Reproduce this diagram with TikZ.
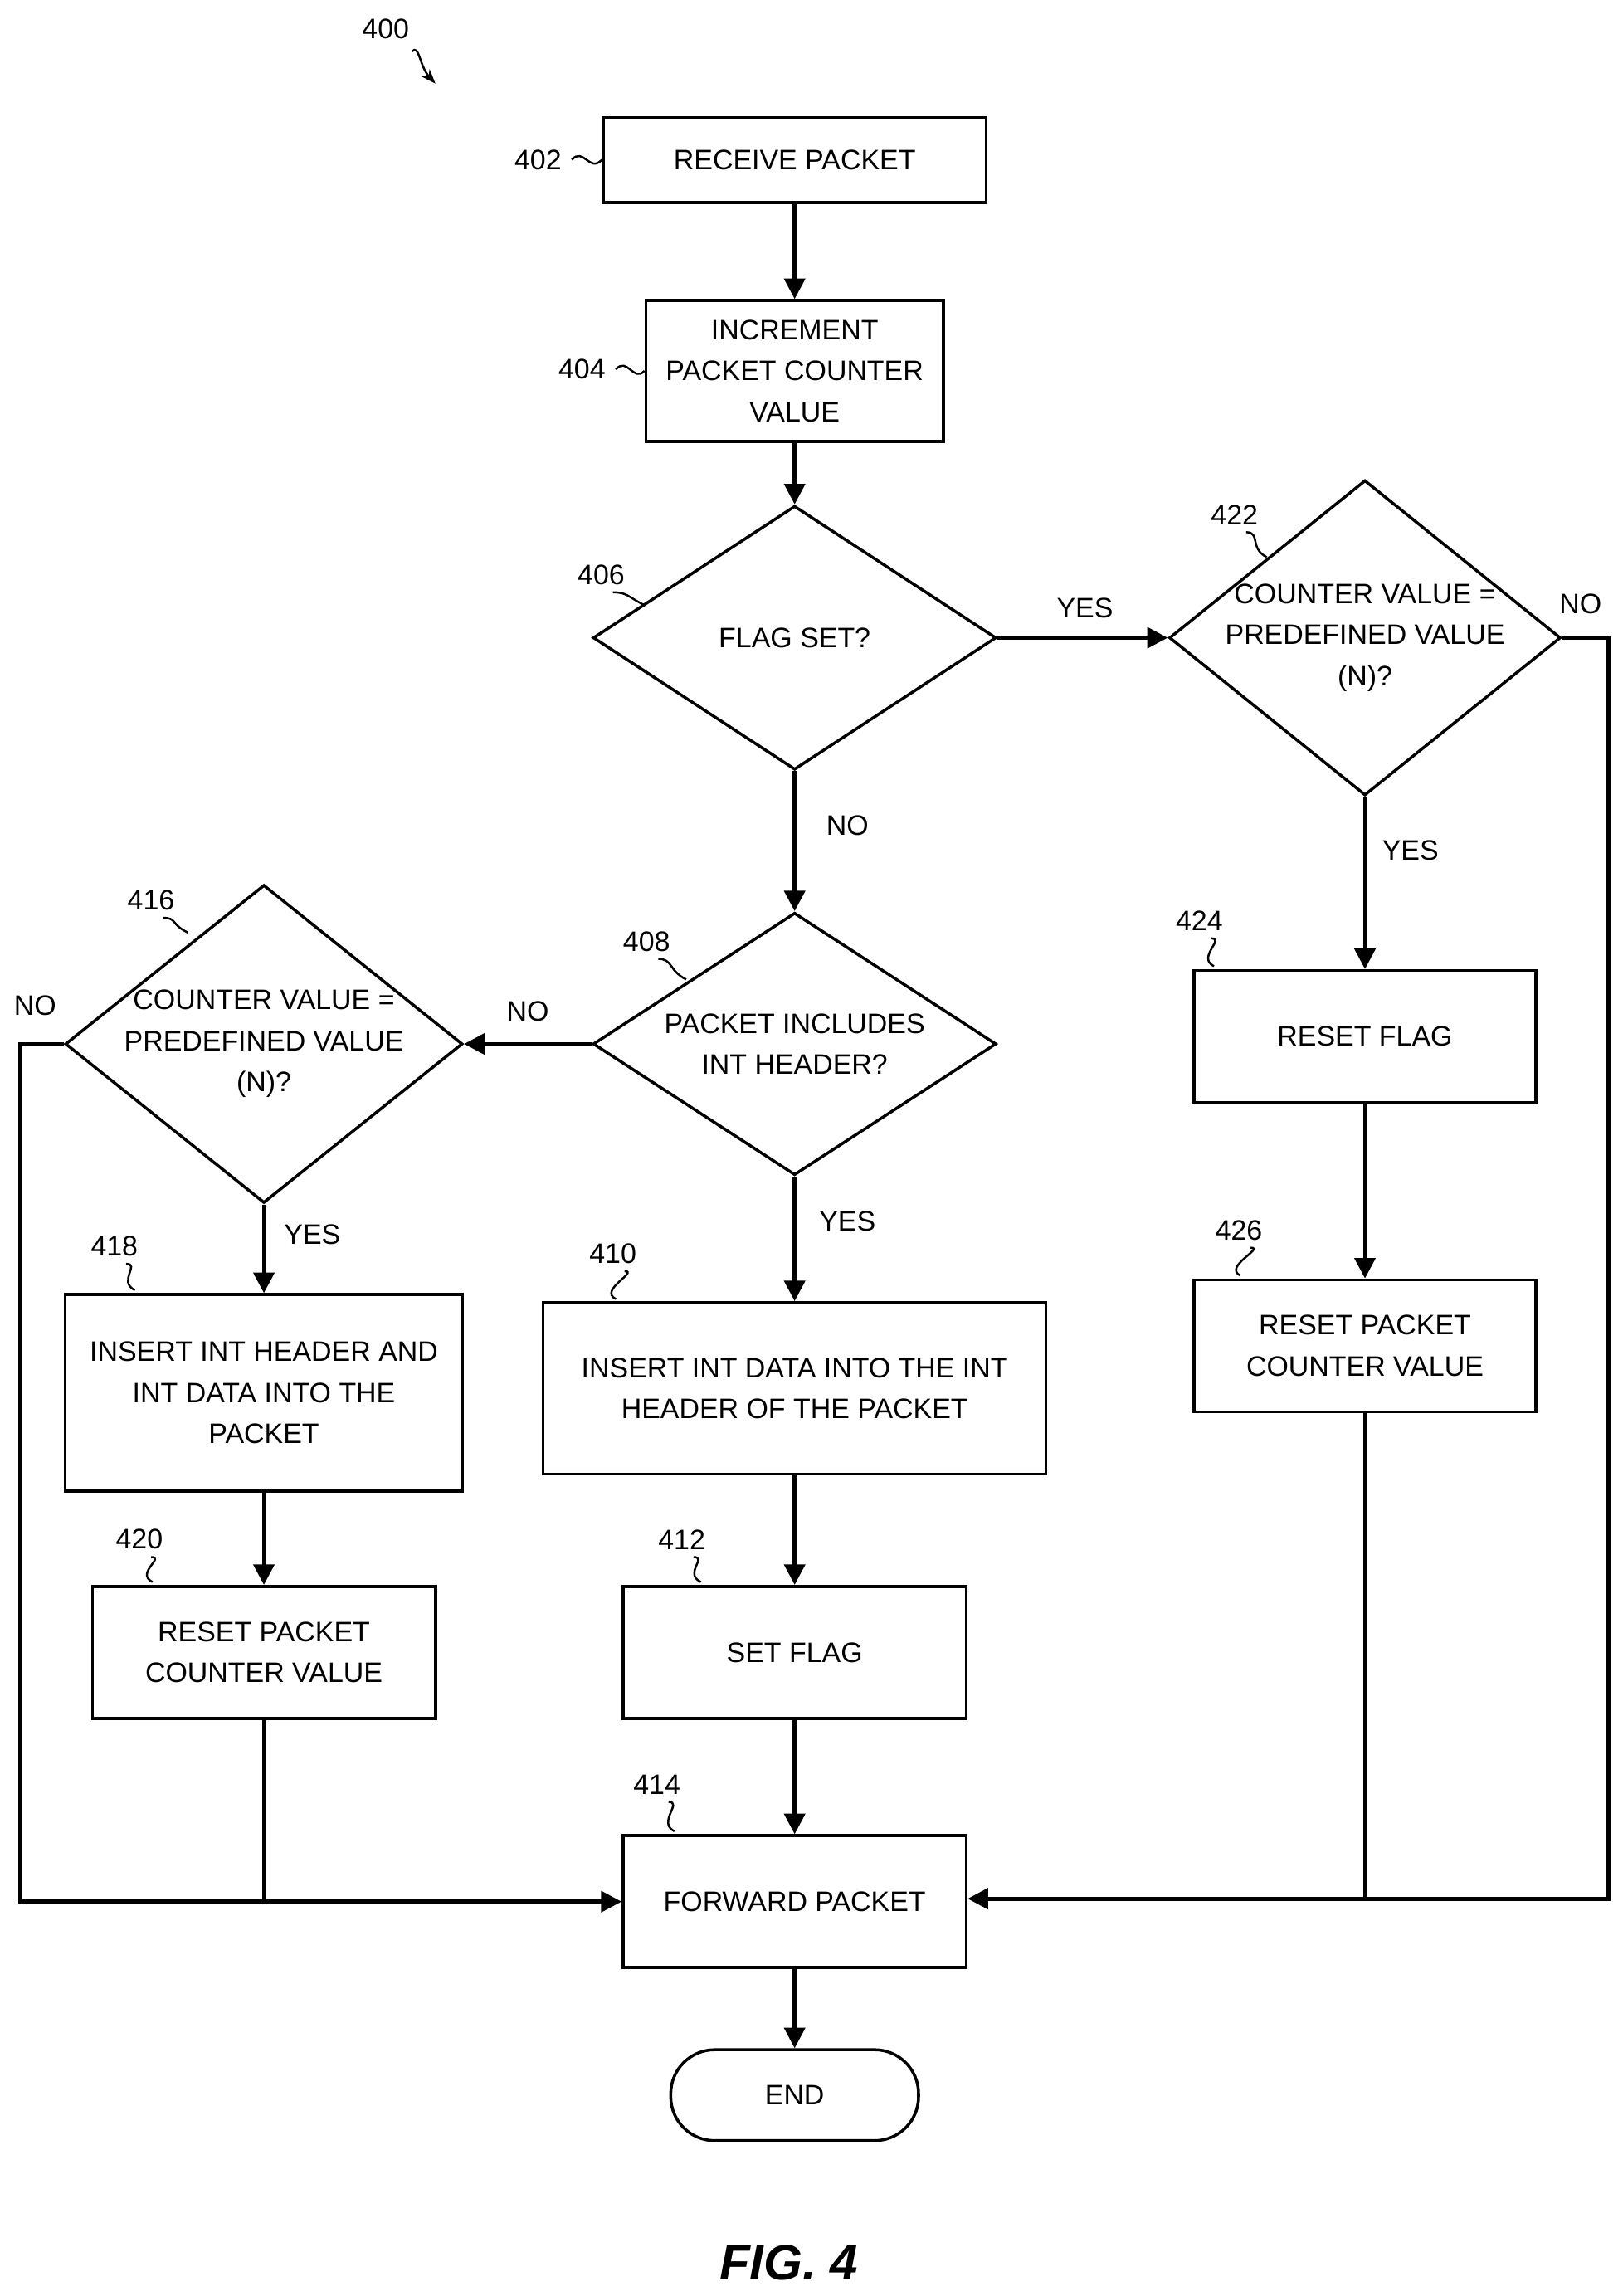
\documentclass[tikz,border=0pt]{standalone}
\usepackage{fontspec}
\setmainfont{Liberation Sans}
\usetikzlibrary{shapes.geometric,arrows.meta}
\tikzset{
  box/.style={draw, line width=1pt, align=center, font=\fontsize{9.6}{14}\selectfont, inner sep=0pt},
  dec/.style={draw, diamond, line width=1pt, inner sep=0pt, aspect=1,
    label={[align=center, font=\fontsize{9.6}{14}\selectfont]center:#1}},
  line/.style={line width=1.4pt, -{Triangle[length=7pt,width=7pt]}},
  plain/.style={line width=1.4pt},
  lbl/.style={font=\fontsize{9.6}{12}\selectfont},
  refn/.style={font=\fontsize{9.6}{12}\selectfont},
  squig/.style={line width=0.7pt}
}
\begin{document}
\begin{tikzpicture}[x=0.5pt,y=-0.5pt]
  \useasboundingbox (0,0) rectangle (1107,1566);

  % steps
  \node[box, minimum width=130.5pt, minimum height=29pt] (recv) at (542,109) {RECEIVE PACKET};
  \node[box, minimum width=101.5pt, minimum height=48pt] (incr) at (542,253) {INCREMENT\\PACKET COUNTER\\VALUE};
  \node[dec={FLAG SET?}, minimum width=137.5pt, minimum height=90pt] (flag) at (542,435) {};
  \node[dec={COUNTER VALUE =\\PREDEFINED VALUE\\(N)?}, minimum width=133.5pt, minimum height=107.5pt] (cntr) at (931,435) {};
  \node[dec={PACKET INCLUDES\\INT HEADER?}, minimum width=137.5pt, minimum height=89.5pt] (hdr) at (542,712) {};
  \node[dec={COUNTER VALUE =\\PREDEFINED VALUE\\(N)?}, minimum width=135.5pt, minimum height=108.5pt] (cntl) at (180,712) {};
  \node[box, minimum width=135.5pt, minimum height=67pt] (insh) at (180,950) {INSERT INT HEADER AND\\INT DATA INTO THE\\PACKET};
  \node[box, minimum width=171.5pt, minimum height=58.5pt] (insd) at (542,947) {INSERT INT DATA INTO THE INT\\HEADER OF THE PACKET};
  \node[box, minimum width=117pt, minimum height=45pt] (setf) at (542,1127) {SET FLAG};
  \node[box, minimum width=117pt, minimum height=45pt] (rstl) at (180,1127) {RESET PACKET\\COUNTER VALUE};
  \node[box, minimum width=117pt, minimum height=45pt] (fwd) at (542,1297) {FORWARD PACKET};
  \node[box, rounded corners=15pt, minimum width=84.5pt, minimum height=31pt] (end) at (542,1429) {END};
  \node[box, minimum width=116.5pt, minimum height=45pt] (rflg) at (931,707) {RESET FLAG};
  \node[box, minimum width=116.5pt, minimum height=45pt] (rstr) at (931,918) {RESET PACKET\\COUNTER VALUE};

  % flow
  \draw[line] (recv) -- (incr);
  \draw[line] (incr) -- (flag);
  \draw[line] (flag.east) -- (cntr.west);
  \draw[line] (flag.south) -- (hdr.north);
  \draw[line] (hdr.west) -- (cntl.east);
  \draw[line] (hdr.south) -- (insd.north);
  \draw[line] (cntl.south) -- (insh.north);
  \draw[line] (insh) -- (rstl);
  \draw[line] (insd) -- (setf);
  \draw[line] (setf) -- (fwd);
  \draw[line] (fwd) -- (end);
  \draw[line] (cntr.south) -- (rflg.north);
  \draw[line] (rflg) -- (rstr);
  \coordinate (rj) at (931,1295);
  \coordinate (lj) at (180,1297);
  \draw[line] (cntr.east) -- (1097,435) -- (1097,1295) -- (rj) -- (fwd.east |- rj);
  \draw[plain] (rstr.south) -- (rj);
  \draw[line] (cntl.west) -- (14,712) -- (14,1297) -- (lj) -- (fwd.west |- lj);
  \draw[plain] (rstl.south) -- (lj);

  % branch labels
  \node[lbl] (y406) at (740,415) {YES};
  \node[lbl] (n406) at (578,563) {NO};
  \node[lbl] (n408) at (360,690) {NO};
  \node[lbl] (y408) at (578,833) {YES};
  \node[lbl] (y416) at (213,842) {YES};
  \node[lbl] (n416) at (24,686) {NO};
  \node[lbl] (y422) at (962,580) {YES};
  \node[lbl] (n422) at (1078,412) {NO};

  % reference numerals
  \node[refn] (n400) at (263,20) {400};
  \draw[squig, -{Stealth[length=5pt]}] (281,35) .. controls (286,30) and (286,45) .. (297,57);
  \node[refn, anchor=east] (n402) at (390,109) {402};
  \draw[squig] (n402.east) .. controls (398,100) and (402,118) .. (recv.west);
  \node[refn, anchor=east] (n404) at (420,252) {404};
  \draw[squig] (n404.east) .. controls (428,243) and (432,261) .. (incr.west);
  \foreach \nm/\x/\y/\ex/\ey in {406/410/392/440/413, 422/842/351/864/380, 408/441/642/468/668,
      416/103/614/128/636, 418/78/850/92/880, 410/418/855/420/886, 412/465/1050/478/1079,
      420/95/1050/104/1079, 414/448/1217/460/1249, 424/818/628/828/659, 426/845/839/846/870}
  {
    \node[refn] (n\nm) at (\x,\y) {\nm};
    \draw[squig] (\x+8,\y+12) .. controls (\x+18,\y+12) and (\ex-12,\ey-6) .. (\ex,\ey);
  }

  \node[font=\bfseries\itshape\fontsize{17}{20}\selectfont] (fig) at (538,1543) {FIG. 4};
\end{tikzpicture}
\end{document}
